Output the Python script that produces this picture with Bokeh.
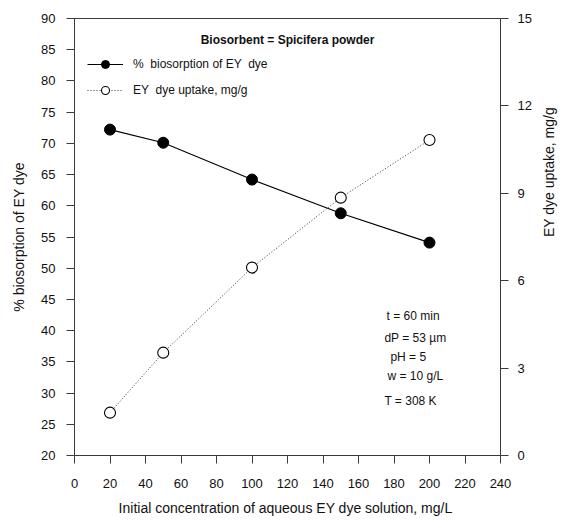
import math
from bokeh.plotting import figure
from bokeh.models import (LinearAxis, Range1d, FixedTicker, Legend, LegendItem,
                          Label, ColumnDataSource)
from bokeh.embed import file_html
from bokeh.resources import INLINE

# ---- data ----
concentration = [20, 50, 100, 150, 200]                 # mg/L
biosorption_pct = [72.2, 70.1, 64.2, 58.8, 54.1]        # %
dye_uptake = [1.47, 3.53, 6.45, 8.85, 10.83]            # mg/g

x_ticks = [0, 20, 40, 60, 80, 100, 120, 140, 160, 180, 200, 220, 240]
left_ticks = [20, 25, 30, 35, 40, 45, 50, 55, 60, 65, 70, 75, 80, 85, 90]
right_ticks = [0, 3, 6, 9, 12, 15]

x_title = "Initial concentration of aqueous EY  dye solution, mg/L"
left_title = "% biosorption of EY dye"
right_title = "EY  dye uptake, mg/g"
series_labels = ["%  biosorption of EY  dye", "EY  dye uptake, mg/g"]
chart_title = "Biosorbent = Spicifera powder"
conditions = ["t = 60 min", "dP = 53 \u00b5m", "pH = 5", "w = 10 g/L", "T = 308 K"]

FONT = "Liberation Sans"
AX = "#3a3a3a"
TXT = "#111111"

p = figure(width=568, height=522, x_range=Range1d(0, 240), y_range=Range1d(20, 90),
           output_backend="svg", toolbar_location=None,
           min_border_left=74, min_border_right=68, min_border_top=18,
           min_border_bottom=67, x_axis_location=None, y_axis_location=None)
p.extra_y_ranges = {"right": Range1d(0, 15)}
p.xgrid.visible = False
p.ygrid.visible = False
p.outline_line_color = AX
p.outline_line_width = 1
p.background_fill_color = "white"
p.border_fill_color = "white"


def style(ax, ticks, label_size="13px", standoff=10, title_standoff=8):
    ax.ticker = FixedTicker(ticks=ticks)
    ax.axis_line_color = AX
    ax.major_tick_line_color = AX
    ax.major_tick_out = 8
    ax.major_tick_in = 0
    ax.minor_tick_line_color = None
    ax.major_label_text_font = FONT
    ax.major_label_text_font_size = label_size
    ax.major_label_text_color = TXT
    ax.major_label_standoff = standoff
    ax.axis_label_text_font = FONT
    ax.axis_label_text_font_size = "14px"
    ax.axis_label_text_font_style = "normal"
    ax.axis_label_text_color = TXT
    ax.axis_label_standoff = title_standoff


xax = LinearAxis(axis_label=x_title)
style(xax, x_ticks, standoff=15, title_standoff=9)
p.add_layout(xax, "below")

yax = LinearAxis(axis_label=left_title)
style(yax, left_ticks, standoff=11, title_standoff=11)
p.add_layout(yax, "left")

rax = LinearAxis(y_range_name="right", axis_label=right_title)
style(rax, right_ticks, standoff=9, title_standoff=14)
rax.axis_label_orientation = -1.5 * math.pi
p.add_layout(rax, "right")

src = ColumnDataSource(dict(x=concentration, b=biosorption_pct, u=dye_uptake))

l1 = p.line("x", "b", source=src, line_color="black", line_width=1.1)
s1 = p.scatter("x", "b", source=src, size=11, fill_color="black", line_color="black")

l2 = p.line("x", "u", source=src, y_range_name="right", line_color="#333333",
            line_width=1, line_dash="1 2")
s2 = p.scatter("x", "u", source=src, y_range_name="right", size=11,
               fill_color="white", line_color="black", line_width=1.1)

legend = Legend(items=[LegendItem(label=series_labels[0], renderers=[l1, s1]),
                       LegendItem(label=series_labels[1], renderers=[l2, s2])],
                location=(13, 355), border_line_color=None, background_fill_alpha=0,
                padding=0, margin=0, spacing=6, glyph_width=36, glyph_height=20,
                label_standoff=10, label_text_font=FONT, label_text_font_size="12px",
                label_text_color=TXT)
p.add_layout(legend)

p.add_layout(Label(x=120, y=86.5, text=chart_title, text_font=FONT,
                   text_font_size="12px", text_font_style="bold", text_align="center",
                   text_baseline="middle", text_color=TXT))

cond_pos = [(175.8, 42.3), (174.6, 38.9), (178.0, 35.7), (176.3, 32.8), (174.6, 28.8)]
for t, (cx, cy) in zip(conditions, cond_pos):
    p.add_layout(Label(x=cx, y=cy, text=t, text_font=FONT, text_font_size="12px",
                       text_align="left", text_baseline="middle", text_color=TXT))

open("out.html", "w").write(file_html(p, INLINE))
